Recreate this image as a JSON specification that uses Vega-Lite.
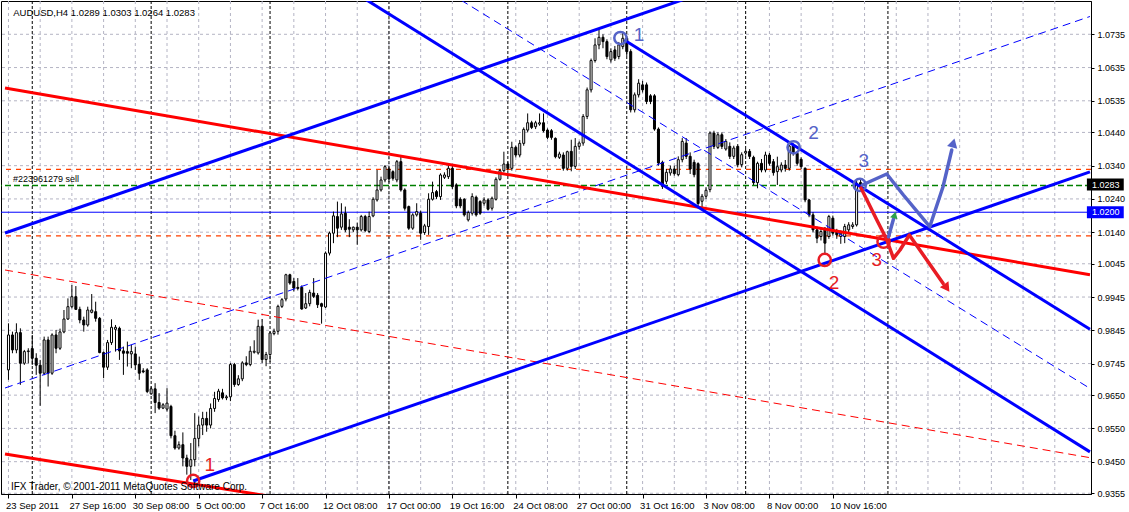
{
  "$schema": "https://vega.github.io/schema/vega-lite/v6.json",
  "width": 1090,
  "height": 493,
  "autosize": {"type": "none"},
  "padding": {"left": 1, "top": 1, "right": 38, "bottom": 18},
  "background": "white",
  "config": {
    "view": {"stroke": "black", "strokeWidth": 1},
    "font": "Liberation Sans",
    "text": {"font": "Liberation Sans"}
  },
  "resolve": {"axis": {"x": "independent", "y": "independent"}},
  "datasets": {
    "one": [{}],
    "candles": [
      {"i":0,"o":0.9726,"h":0.9866,"l":0.9696,"c":0.9831},
      {"i":1,"o":0.9831,"h":0.9841,"l":0.9776,"c":0.9786},
      {"i":2,"o":0.9786,"h":0.9866,"l":0.9776,"c":0.9838},
      {"i":3,"o":0.9838,"h":0.9851,"l":0.9681,"c":0.9746},
      {"i":4,"o":0.9746,"h":0.9786,"l":0.9741,"c":0.9781},
      {"i":5,"o":0.9781,"h":0.9791,"l":0.9746,"c":0.9783},
      {"i":6,"o":0.979,"h":0.9831,"l":0.9741,"c":0.9761},
      {"i":7,"o":0.9761,"h":0.9776,"l":0.9711,"c":0.974},
      {"i":8,"o":0.974,"h":0.9756,"l":0.9618,"c":0.9716},
      {"i":9,"o":0.9716,"h":0.9826,"l":0.971,"c":0.9816},
      {"i":10,"o":0.9816,"h":0.9826,"l":0.9676,"c":0.9716},
      {"i":11,"o":0.9716,"h":0.9836,"l":0.9711,"c":0.9831},
      {"i":12,"o":0.9831,"h":0.9846,"l":0.9776,"c":0.9791},
      {"i":13,"o":0.9791,"h":0.985,"l":0.9786,"c":0.984},
      {"i":14,"o":0.984,"h":0.9906,"l":0.9836,"c":0.9879},
      {"i":15,"o":0.9879,"h":0.9941,"l":0.9876,"c":0.9916},
      {"i":16,"o":0.9916,"h":0.9981,"l":0.9911,"c":0.9946},
      {"i":17,"o":0.9946,"h":0.9978,"l":0.9906,"c":0.9908},
      {"i":18,"o":0.9908,"h":0.9916,"l":0.9866,"c":0.9876},
      {"i":19,"o":0.9876,"h":0.9886,"l":0.9841,"c":0.9861},
      {"i":20,"o":0.9861,"h":0.9916,"l":0.9856,"c":0.9906},
      {"i":21,"o":0.9899,"h":0.9954,"l":0.9896,"c":0.9906},
      {"i":22,"o":0.9901,"h":0.9931,"l":0.9871,"c":0.9881},
      {"i":23,"o":0.9881,"h":0.9885,"l":0.9776,"c":0.9778},
      {"i":24,"o":0.9778,"h":0.9781,"l":0.9701,"c":0.9734},
      {"i":25,"o":0.9734,"h":0.9816,"l":0.9726,"c":0.9808},
      {"i":26,"o":0.9808,"h":0.9878,"l":0.9801,"c":0.9854},
      {"i":27,"o":0.9848,"h":0.9861,"l":0.9781,"c":0.9854},
      {"i":28,"o":0.9851,"h":0.9856,"l":0.9756,"c":0.9783},
      {"i":29,"o":0.9783,"h":0.9796,"l":0.9711,"c":0.9776},
      {"i":30,"o":0.9781,"h":0.9811,"l":0.9736,"c":0.9776},
      {"i":31,"o":0.9774,"h":0.9801,"l":0.9731,"c":0.9781},
      {"i":32,"o":0.9774,"h":0.9796,"l":0.9726,"c":0.9741},
      {"i":33,"o":0.9743,"h":0.9766,"l":0.9696,"c":0.9716},
      {"i":34,"o":0.9723,"h":0.9731,"l":0.9716,"c":0.972},
      {"i":35,"o":0.9726,"h":0.9731,"l":0.9656,"c":0.9661},
      {"i":36,"o":0.9654,"h":0.9676,"l":0.9651,"c":0.9669},
      {"i":37,"o":0.9669,"h":0.9686,"l":0.9596,"c":0.9628},
      {"i":38,"o":0.9628,"h":0.9656,"l":0.9606,"c":0.9611},
      {"i":39,"o":0.9611,"h":0.9626,"l":0.9608,"c":0.9621},
      {"i":40,"o":0.9608,"h":0.9671,"l":0.9601,"c":0.9626},
      {"i":41,"o":0.9616,"h":0.9621,"l":0.952,"c":0.9528},
      {"i":42,"o":0.9528,"h":0.9543,"l":0.9486,"c":0.9491},
      {"i":43,"o":0.9491,"h":0.9511,"l":0.9486,"c":0.9501},
      {"i":44,"o":0.9501,"h":0.9538,"l":0.9436,"c":0.9461},
      {"i":45,"o":0.9461,"h":0.9471,"l":0.9411,"c":0.9436},
      {"i":46,"o":0.9436,"h":0.9506,"l":0.9395,"c":0.9456},
      {"i":47,"o":0.9456,"h":0.9596,"l":0.9436,"c":0.952},
      {"i":48,"o":0.952,"h":0.9586,"l":0.9496,"c":0.956},
      {"i":49,"o":0.956,"h":0.96,"l":0.953,"c":0.958},
      {"i":50,"o":0.958,"h":0.96,"l":0.954,"c":0.956},
      {"i":51,"o":0.956,"h":0.9625,"l":0.955,"c":0.961},
      {"i":52,"o":0.961,"h":0.966,"l":0.96,"c":0.964},
      {"i":53,"o":0.9637,"h":0.9669,"l":0.963,"c":0.9662},
      {"i":54,"o":0.9657,"h":0.9669,"l":0.9637,"c":0.9642},
      {"i":55,"o":0.9642,"h":0.965,"l":0.9635,"c":0.9645},
      {"i":56,"o":0.9645,"h":0.9747,"l":0.9632,"c":0.9742},
      {"i":57,"o":0.9742,"h":0.9747,"l":0.9675,"c":0.9682},
      {"i":58,"o":0.9682,"h":0.971,"l":0.9678,"c":0.9699},
      {"i":59,"o":0.9699,"h":0.9752,"l":0.9692,"c":0.9747},
      {"i":60,"o":0.9747,"h":0.9767,"l":0.9737,"c":0.9742},
      {"i":61,"o":0.9742,"h":0.9797,"l":0.9737,"c":0.9782},
      {"i":62,"o":0.9779,"h":0.9815,"l":0.9775,"c":0.9782},
      {"i":63,"o":0.9777,"h":0.9877,"l":0.9772,"c":0.9857},
      {"i":64,"o":0.9857,"h":0.9879,"l":0.9747,"c":0.9757},
      {"i":65,"o":0.9757,"h":0.978,"l":0.9737,"c":0.9772},
      {"i":66,"o":0.9772,"h":0.9842,"l":0.975,"c":0.9837},
      {"i":67,"o":0.9835,"h":0.985,"l":0.983,"c":0.9842},
      {"i":68,"o":0.9842,"h":0.9922,"l":0.9832,"c":0.9917},
      {"i":69,"o":0.9917,"h":0.9942,"l":0.9912,"c":0.9937},
      {"i":70,"o":0.9939,"h":1.0015,"l":0.9932,"c":1.0012},
      {"i":71,"o":1.0012,"h":1.0015,"l":0.9982,"c":0.9987},
      {"i":72,"o":0.9992,"h":1.0002,"l":0.9962,"c":0.9972},
      {"i":73,"o":0.9974,"h":1.0002,"l":0.9965,"c":0.9971},
      {"i":74,"o":0.9974,"h":0.998,"l":0.9907,"c":0.9909},
      {"i":75,"o":0.9912,"h":0.9957,"l":0.9909,"c":0.9925},
      {"i":76,"o":0.9925,"h":0.9967,"l":0.9917,"c":0.9959},
      {"i":77,"o":0.9957,"h":1.0002,"l":0.9942,"c":0.9947},
      {"i":78,"o":0.995,"h":0.9957,"l":0.9912,"c":0.9922},
      {"i":79,"o":0.9925,"h":0.9928,"l":0.9865,"c":0.9917},
      {"i":80,"o":0.9915,"h":1.0082,"l":0.9912,"c":1.0077},
      {"i":81,"o":1.0077,"h":1.0142,"l":1.007,"c":1.0137},
      {"i":82,"o":1.0137,"h":1.0202,"l":1.0107,"c":1.0189},
      {"i":83,"o":1.0187,"h":1.0232,"l":1.0125,"c":1.0152},
      {"i":84,"o":1.0155,"h":1.0227,"l":1.0147,"c":1.0195},
      {"i":85,"o":1.0197,"h":1.0217,"l":1.014,"c":1.0147},
      {"i":86,"o":1.0155,"h":1.0179,"l":1.0125,"c":1.0149},
      {"i":87,"o":1.0147,"h":1.0157,"l":1.014,"c":1.0155},
      {"i":88,"o":1.0155,"h":1.0169,"l":1.0102,"c":1.0147},
      {"i":89,"o":1.0147,"h":1.0192,"l":1.0142,"c":1.0187},
      {"i":90,"o":1.0187,"h":1.0192,"l":1.014,"c":1.0145},
      {"i":91,"o":1.0142,"h":1.0202,"l":1.0137,"c":1.0187},
      {"i":92,"o":1.0189,"h":1.0245,"l":1.0185,"c":1.0239},
      {"i":93,"o":1.0237,"h":1.0327,"l":1.0232,"c":1.0267},
      {"i":94,"o":1.0267,"h":1.0307,"l":1.0262,"c":1.0297},
      {"i":95,"o":1.0297,"h":1.0342,"l":1.029,"c":1.0337},
      {"i":96,"o":1.033,"h":1.0337,"l":1.029,"c":1.03},
      {"i":97,"o":1.0322,"h":1.0326,"l":1.0295,"c":1.0302},
      {"i":98,"o":1.0297,"h":1.0357,"l":1.029,"c":1.0352},
      {"i":99,"o":1.0352,"h":1.0367,"l":1.0262,"c":1.0267},
      {"i":100,"o":1.0267,"h":1.0272,"l":1.0205,"c":1.0212},
      {"i":101,"o":1.0217,"h":1.022,"l":1.0147,"c":1.0152},
      {"i":102,"o":1.0152,"h":1.0197,"l":1.0147,"c":1.0192},
      {"i":103,"o":1.0192,"h":1.0227,"l":1.0187,"c":1.0202},
      {"i":104,"o":1.0197,"h":1.0205,"l":1.0117,"c":1.0137},
      {"i":105,"o":1.0139,"h":1.0165,"l":1.0132,"c":1.0159},
      {"i":106,"o":1.0157,"h":1.0257,"l":1.0132,"c":1.0239},
      {"i":107,"o":1.0239,"h":1.0292,"l":1.0235,"c":1.0259},
      {"i":108,"o":1.0262,"h":1.0267,"l":1.024,"c":1.0247},
      {"i":109,"o":1.0247,"h":1.0317,"l":1.0237,"c":1.0312},
      {"i":110,"o":1.0305,"h":1.032,"l":1.03,"c":1.0312},
      {"i":111,"o":1.0307,"h":1.0347,"l":1.03,"c":1.0332},
      {"i":112,"o":1.0332,"h":1.0342,"l":1.027,"c":1.0277},
      {"i":113,"o":1.0282,"h":1.0287,"l":1.0212,"c":1.0219},
      {"i":114,"o":1.0239,"h":1.0245,"l":1.0212,"c":1.0219},
      {"i":115,"o":1.0239,"h":1.0242,"l":1.0187,"c":1.0192},
      {"i":116,"o":1.0177,"h":1.0205,"l":1.0172,"c":1.0199},
      {"i":117,"o":1.0197,"h":1.0257,"l":1.019,"c":1.0247},
      {"i":118,"o":1.0245,"h":1.025,"l":1.0187,"c":1.0192},
      {"i":119,"o":1.0232,"h":1.0236,"l":1.0192,"c":1.0197},
      {"i":120,"o":1.0227,"h":1.0245,"l":1.022,"c":1.0237},
      {"i":121,"o":1.0237,"h":1.0242,"l":1.0205,"c":1.0209},
      {"i":122,"o":1.0212,"h":1.0247,"l":1.0205,"c":1.0242},
      {"i":123,"o":1.0239,"h":1.0305,"l":1.0235,"c":1.0299},
      {"i":124,"o":1.0299,"h":1.033,"l":1.0295,"c":1.0325},
      {"i":125,"o":1.0325,"h":1.0382,"l":1.032,"c":1.0345},
      {"i":126,"o":1.0345,"h":1.0352,"l":1.0325,"c":1.0332},
      {"i":127,"o":1.0332,"h":1.0412,"l":1.0325,"c":1.0395},
      {"i":128,"o":1.0395,"h":1.04,"l":1.0365,"c":1.0372},
      {"i":129,"o":1.0372,"h":1.0417,"l":1.0365,"c":1.0407},
      {"i":130,"o":1.0407,"h":1.0455,"l":1.04,"c":1.0449},
      {"i":131,"o":1.0447,"h":1.0497,"l":1.044,"c":1.0469},
      {"i":132,"o":1.0469,"h":1.0475,"l":1.045,"c":1.0455},
      {"i":133,"o":1.0457,"h":1.0475,"l":1.045,"c":1.0469},
      {"i":134,"o":1.0465,"h":1.0497,"l":1.046,"c":1.0469},
      {"i":135,"o":1.0469,"h":1.0497,"l":1.044,"c":1.0445},
      {"i":136,"o":1.0447,"h":1.0452,"l":1.042,"c":1.0425},
      {"i":137,"o":1.0445,"h":1.045,"l":1.0418,"c":1.0425},
      {"i":138,"o":1.0422,"h":1.0425,"l":1.0362,"c":1.0367},
      {"i":139,"o":1.0365,"h":1.0382,"l":1.036,"c":1.0375},
      {"i":140,"o":1.0372,"h":1.038,"l":1.0325,"c":1.0332},
      {"i":141,"o":1.0332,"h":1.0385,"l":1.0325,"c":1.0382},
      {"i":142,"o":1.0383,"h":1.0418,"l":1.0323,"c":1.0338},
      {"i":143,"o":1.0338,"h":1.0423,"l":1.033,"c":1.0398},
      {"i":144,"o":1.0398,"h":1.0413,"l":1.0388,"c":1.0408},
      {"i":145,"o":1.0408,"h":1.0495,"l":1.04,"c":1.0488},
      {"i":146,"o":1.0488,"h":1.0575,"l":1.048,"c":1.0568},
      {"i":147,"o":1.0568,"h":1.0662,"l":1.056,"c":1.0656},
      {"i":148,"o":1.0656,"h":1.0723,"l":1.065,"c":1.0703},
      {"i":149,"o":1.0703,"h":1.075,"l":1.069,"c":1.0726},
      {"i":150,"o":1.0726,"h":1.0735,"l":1.0693,"c":1.0713},
      {"i":151,"o":1.0713,"h":1.072,"l":1.066,"c":1.0668},
      {"i":152,"o":1.0658,"h":1.0693,"l":1.065,"c":1.0683},
      {"i":153,"o":1.0688,"h":1.07,"l":1.0655,"c":1.0663},
      {"i":154,"o":1.0668,"h":1.0712,"l":1.066,"c":1.0703},
      {"i":155,"o":1.0698,"h":1.0743,"l":1.069,"c":1.0723},
      {"i":156,"o":1.0723,"h":1.0728,"l":1.067,"c":1.0683},
      {"i":157,"o":1.0683,"h":1.069,"l":1.05,"c":1.0508},
      {"i":158,"o":1.0508,"h":1.056,"l":1.05,"c":1.0553},
      {"i":159,"o":1.0553,"h":1.06,"l":1.0545,"c":1.0588},
      {"i":160,"o":1.0583,"h":1.0595,"l":1.056,"c":1.0568},
      {"i":161,"o":1.0583,"h":1.059,"l":1.0525,"c":1.0533},
      {"i":162,"o":1.055,"h":1.0555,"l":1.0525,"c":1.0533},
      {"i":163,"o":1.055,"h":1.0555,"l":1.0445,"c":1.045},
      {"i":164,"o":1.045,"h":1.0455,"l":1.034,"c":1.0348},
      {"i":165,"o":1.035,"h":1.0355,"l":1.027,"c":1.0278},
      {"i":166,"o":1.0293,"h":1.033,"l":1.0285,"c":1.032},
      {"i":167,"o":1.0318,"h":1.034,"l":1.031,"c":1.033},
      {"i":168,"o":1.033,"h":1.034,"l":1.031,"c":1.0316},
      {"i":169,"o":1.0313,"h":1.0368,"l":1.0308,"c":1.0358},
      {"i":170,"o":1.0358,"h":1.0423,"l":1.035,"c":1.0413},
      {"i":171,"o":1.0408,"h":1.0423,"l":1.036,"c":1.0368},
      {"i":172,"o":1.0368,"h":1.038,"l":1.0315,"c":1.033},
      {"i":173,"o":1.035,"h":1.0358,"l":1.0305,"c":1.0313},
      {"i":174,"o":1.0346,"h":1.035,"l":1.0216,"c":1.0226},
      {"i":175,"o":1.0233,"h":1.0255,"l":1.0215,"c":1.0248},
      {"i":176,"o":1.0248,"h":1.0275,"l":1.024,"c":1.0266},
      {"i":177,"o":1.0268,"h":1.0443,"l":1.026,"c":1.0438},
      {"i":178,"o":1.0438,"h":1.0445,"l":1.039,"c":1.0398},
      {"i":179,"o":1.0395,"h":1.044,"l":1.039,"c":1.0433},
      {"i":180,"o":1.0433,"h":1.044,"l":1.039,"c":1.0398},
      {"i":181,"o":1.039,"h":1.042,"l":1.0385,"c":1.0413},
      {"i":182,"o":1.0398,"h":1.041,"l":1.036,"c":1.0368},
      {"i":183,"o":1.0368,"h":1.04,"l":1.036,"c":1.0393},
      {"i":184,"o":1.0398,"h":1.0405,"l":1.0335,"c":1.0343},
      {"i":185,"o":1.0343,"h":1.038,"l":1.0335,"c":1.0373},
      {"i":186,"o":1.0378,"h":1.039,"l":1.037,"c":1.0383},
      {"i":187,"o":1.0383,"h":1.039,"l":1.036,"c":1.0368},
      {"i":188,"o":1.0365,"h":1.037,"l":1.0282,"c":1.0289},
      {"i":189,"o":1.0289,"h":1.0352,"l":1.0272,"c":1.0347},
      {"i":190,"o":1.0347,"h":1.036,"l":1.032,"c":1.0327},
      {"i":191,"o":1.0327,"h":1.0382,"l":1.032,"c":1.0372},
      {"i":192,"o":1.0372,"h":1.0378,"l":1.034,"c":1.0347},
      {"i":193,"o":1.0352,"h":1.036,"l":1.031,"c":1.0319},
      {"i":194,"o":1.0322,"h":1.0367,"l":1.0282,"c":1.0337},
      {"i":195,"o":1.0327,"h":1.035,"l":1.032,"c":1.0342},
      {"i":196,"o":1.0342,"h":1.0357,"l":1.0322,"c":1.0332},
      {"i":197,"o":1.0332,"h":1.0402,"l":1.0325,"c":1.0399},
      {"i":198,"o":1.0399,"h":1.0407,"l":1.037,"c":1.0377},
      {"i":199,"o":1.0377,"h":1.0382,"l":1.034,"c":1.0347},
      {"i":200,"o":1.0359,"h":1.0365,"l":1.033,"c":1.0337},
      {"i":201,"o":1.0332,"h":1.0335,"l":1.023,"c":1.0237},
      {"i":202,"o":1.0237,"h":1.024,"l":1.0185,"c":1.0192},
      {"i":203,"o":1.0192,"h":1.02,"l":1.014,"c":1.0147},
      {"i":204,"o":1.0147,"h":1.0157,"l":1.0107,"c":1.0122},
      {"i":205,"o":1.0127,"h":1.015,"l":1.0115,"c":1.0142},
      {"i":206,"o":1.0152,"h":1.0155,"l":1.0072,"c":1.0107},
      {"i":207,"o":1.0127,"h":1.0192,"l":1.012,"c":1.0187},
      {"i":208,"o":1.0182,"h":1.019,"l":1.013,"c":1.0137},
      {"i":209,"o":1.0142,"h":1.015,"l":1.012,"c":1.0132},
      {"i":210,"o":1.0127,"h":1.0145,"l":1.0105,"c":1.0137},
      {"i":211,"o":1.0127,"h":1.0165,"l":1.0107,"c":1.0157},
      {"i":212,"o":1.0147,"h":1.017,"l":1.014,"c":1.0162},
      {"i":213,"o":1.0157,"h":1.017,"l":1.015,"c":1.0162},
      {"i":214,"o":1.0162,"h":1.0295,"l":1.0157,"c":1.0287},
      {"i":215,"o":1.0289,"h":1.0303,"l":1.0264,"c":1.0283}
    ],
    "grid": [
      {"i":0},{"i":8},{"i":16},{"i":24},{"i":32},{"i":40},{"i":48},{"i":56},{"i":64},{"i":72},
      {"i":80},{"i":88},{"i":96},{"i":104},{"i":112},{"i":120},{"i":128},{"i":136},{"i":144},{"i":152},
      {"i":160},{"i":168},{"i":176},{"i":184},{"i":192},{"i":200},{"i":208},{"i":216},{"i":224},{"i":232},
      {"i":240},{"i":248},{"i":256},{"i":264}
    ],
    "hgrid": [
      {"p":1.0735},{"p":1.0635},{"p":1.0535},{"p":1.044},{"p":1.034},{"p":1.024},{"p":1.014},{"p":1.0045},
      {"p":0.9945},{"p":0.9845},{"p":0.9745},{"p":0.965},{"p":0.955},{"p":0.945},{"p":0.9355}
    ],
    "sep": [
      {"i":6},{"i":36},{"i":66},{"i":96},{"i":126},{"i":156},{"i":186},{"i":221.9}
    ],
    "trend": [
      {"id":"L1","g":"tb","i1":-0.875,"p1":1.01376,"i2":174.125,"p2":1.08552},
      {"id":"L2","g":"tb","i1":46.6,"p1":0.93919,"i2":272.875,"p2":1.03213},
      {"id":"L3","g":"tb","i1":88.625,"p1":1.0851,"i2":272.875,"p2":0.94794},
      {"id":"L4","g":"tb","i1":155.375,"p1":1.07178,"i2":272.875,"p2":0.9848},
      {"id":"L5","g":"db","i1":-0.875,"p1":0.96715,"i2":272.875,"p2":1.07885},
      {"id":"L6","g":"db","i1":114.125,"p1":1.08381,"i2":272.875,"p2":0.96703},
      {"id":"L7","g":"dr","i1":-0.875,"p1":1.00263,"i2":272.875,"p2":0.9462},
      {"id":"L8","g":"tr","i1":-0.875,"p1":1.05735,"i2":272.875,"p2":1.00122},
      {"id":"L9","g":"tr","i1":-0.875,"p1":0.94731,"i2":74.125,"p2":0.93306}
    ],
    "circles": [
      {"c":"b","i":154.4,"p":1.07238},
      {"c":"b","i":198.1,"p":1.03952},
      {"c":"b","i":214.8,"p":1.02819},
      {"c":"r","i":46.6,"p":0.93919},
      {"c":"r","i":205.95,"p":1.00564},
      {"c":"r","i":220.8,"p":1.01114}
    ],
    "nums": [
      {"c":"b","t":"1","i":159.1,"p":1.07329},
      {"c":"b","t":"2","i":203.1,"p":1.04373},
      {"c":"b","t":"3","i":215.8,"p":1.03549},
      {"c":"r","t":"1","i":50.8,"p":0.944},
      {"c":"r","t":"2","i":208.3,"p":0.99863},
      {"c":"r","t":"3","i":219.1,"p":1.00564}
    ],
    "paths": [
      {"id":"b","k":0,"i":215.4,"p":1.02819},
      {"id":"b","k":1,"i":221.6,"p":1.0315},
      {"id":"b","k":2,"i":225.8,"p":1.02518},
      {"id":"b","k":3,"i":232.45,"p":1.01565},
      {"id":"b","k":4,"i":235.8,"p":1.02768},
      {"id":"b","k":5,"i":238.0,"p":1.03871},
      {"id":"r","k":0,"i":215.1,"p":1.02729},
      {"id":"r","k":1,"i":217.45,"p":1.02166},
      {"id":"r","k":2,"i":219.1,"p":1.01766},
      {"id":"r","k":3,"i":220.8,"p":1.01367},
      {"id":"r","k":4,"i":221.6,"p":1.01165},
      {"id":"r","k":5,"i":223.3,"p":1.00615},
      {"id":"r","k":6,"i":224.95,"p":1.00864},
      {"id":"r","k":7,"i":227.3,"p":1.01315},
      {"id":"r","k":8,"i":229.95,"p":1.00864},
      {"id":"r","k":9,"i":235.8,"p":0.99863},
      {"id":"g","k":0,"i":222.05,"p":1.01264},
      {"id":"g","k":1,"i":223.3,"p":1.01797}
    ]
  },
  "layer": [
    {
      "data": {"name": "grid"},
      "mark": {"type": "rule", "color": "#b4b4c4", "strokeWidth": 1, "strokeDash": [3, 3]},
      "encoding": {
        "x": {
          "field": "i", "type": "quantitative",
          "scale": {"domain": [-0.625, 271.875], "nice": false, "zero": false},
          "axis": {
            "orient": "bottom", "title": null, "grid": false,
            "values": [0, 16, 32, 48, 64, 80, 96, 112, 128, 144, 160, 176, 192, 208],
            "labelExpr": "['23 Sep 2011','27 Sep 16:00','30 Sep 08:00','5 Oct 00:00','7 Oct 16:00','12 Oct 08:00','17 Oct 00:00','19 Oct 16:00','24 Oct 08:00','27 Oct 00:00','31 Oct 16:00','3 Nov 08:00','8 Nov 00:00','10 Nov 16:00'][round(datum.value/16)]",
            "labelAlign": "left", "labelBaseline": "top", "labelOffset": -3, "labelPadding": 2,
            "labelFont": "Liberation Sans", "labelFontSize": 9.5, "labelColor": "black",
            "labelOverlap": false, "labelFlush": false,
            "tickSize": 4, "tickColor": "black", "domainColor": "black"
          }
        }
      }
    },
    {
      "data": {"name": "hgrid"},
      "mark": {"type": "rule", "color": "#b4b4c4", "strokeWidth": 1, "strokeDash": [3, 3]},
      "encoding": {
        "y": {
          "field": "p", "type": "quantitative",
          "scale": {"domain": [0.93528, 1.08351], "nice": false, "zero": false},
          "axis": {
            "orient": "right", "title": null, "grid": false,
            "values": [1.0735, 1.0635, 1.0535, 1.044, 1.034, 1.024, 1.014, 1.0045, 0.9945, 0.9845, 0.9745, 0.965, 0.955, 0.945, 0.9355],
            "format": ".4f",
            "labelFont": "Liberation Sans", "labelFontSize": 9, "labelColor": "black", "labelPadding": 3,
            "labelOverlap": false, "labelFlush": false,
            "tickSize": 3, "tickColor": "black", "domainColor": "black"
          }
        }
      }
    },
    {
      "data": {"name": "sep"},
      "mark": {"type": "rule", "color": "black", "strokeWidth": 1, "strokeDash": [3, 2]},
      "encoding": {"x": {"field": "i", "type": "quantitative", "axis": null}}
    },
    {
      "data": {"name": "one"},
      "mark": {"type": "rule", "color": "#0000ff", "strokeWidth": 1},
      "encoding": {"y": {"datum": 1.02, "type": "quantitative", "axis": null}}
    },
    {
      "data": {"name": "one"},
      "mark": {"type": "rule", "color": "#008000", "strokeWidth": 1.5, "strokeDash": [6, 3]},
      "encoding": {"y": {"datum": 1.028, "type": "quantitative", "axis": null}}
    },
    {
      "data": {"name": "one"},
      "mark": {"type": "rule", "color": "#ff4000", "strokeWidth": 1.2, "strokeDash": [5, 5]},
      "encoding": {"y": {"datum": 1.0329, "type": "quantitative", "axis": null}}
    },
    {
      "data": {"name": "one"},
      "mark": {"type": "rule", "color": "#ff4000", "strokeWidth": 1.2, "strokeDash": [5, 5]},
      "encoding": {"y": {"datum": 1.0129, "type": "quantitative", "axis": null}}
    },
    {
      "data": {"name": "candles"},
      "mark": {"type": "rule", "color": "black", "strokeWidth": 1},
      "encoding": {
        "x": {"field": "i", "type": "quantitative", "axis": null},
        "y": {"field": "l", "type": "quantitative", "axis": null},
        "y2": {"field": "h"}
      }
    },
    {
      "data": {"name": "candles"},
      "mark": {"type": "bar", "width": 2, "stroke": "black", "strokeWidth": 1},
      "encoding": {
        "x": {"field": "i", "type": "quantitative", "axis": null},
        "y": {"field": "o", "type": "quantitative", "axis": null},
        "y2": {"field": "c"},
        "fill": {"condition": {"test": "datum.c >= datum.o", "value": "white"}, "value": "black"}
      }
    },
    {
      "data": {"name": "trend"},
      "transform": [{"filter": "datum.g == 'db'"}],
      "mark": {"type": "rule", "clip": true, "color": "#0000ff", "strokeWidth": 1, "strokeDash": [8, 5]},
      "encoding": {
        "x": {"field": "i1", "type": "quantitative", "axis": null},
        "y": {"field": "p1", "type": "quantitative", "axis": null},
        "x2": {"field": "i2"},
        "y2": {"field": "p2"}
      }
    },
    {
      "data": {"name": "trend"},
      "transform": [{"filter": "datum.g == 'dr'"}],
      "mark": {"type": "rule", "clip": true, "color": "#ff0000", "strokeWidth": 1, "strokeDash": [8, 5]},
      "encoding": {
        "x": {"field": "i1", "type": "quantitative", "axis": null},
        "y": {"field": "p1", "type": "quantitative", "axis": null},
        "x2": {"field": "i2"},
        "y2": {"field": "p2"}
      }
    },
    {
      "data": {"name": "trend"},
      "transform": [{"filter": "datum.g == 'tr'"}],
      "mark": {"type": "rule", "clip": true, "color": "#ff0000", "strokeWidth": 3},
      "encoding": {
        "x": {"field": "i1", "type": "quantitative", "axis": null},
        "y": {"field": "p1", "type": "quantitative", "axis": null},
        "x2": {"field": "i2"},
        "y2": {"field": "p2"}
      }
    },
    {
      "data": {"name": "trend"},
      "transform": [{"filter": "datum.g == 'tb'"}],
      "mark": {"type": "rule", "clip": true, "color": "#0000ff", "strokeWidth": 3},
      "encoding": {
        "x": {"field": "i1", "type": "quantitative", "axis": null},
        "y": {"field": "p1", "type": "quantitative", "axis": null},
        "x2": {"field": "i2"},
        "y2": {"field": "p2"}
      }
    },
    {
      "data": {"name": "circles"},
      "mark": {"type": "point", "shape": "circle", "filled": false, "size": 150, "strokeWidth": 2.5, "opacity": 1},
      "encoding": {
        "x": {"field": "i", "type": "quantitative", "axis": null},
        "y": {"field": "p", "type": "quantitative", "axis": null},
        "stroke": {"field": "c", "type": "nominal", "scale": {"domain": ["b", "r"], "range": ["#5563c8", "#e81c24"]}, "legend": null}
      }
    },
    {
      "data": {"name": "paths"},
      "mark": {"type": "line", "strokeWidth": 3.5, "strokeJoin": "round", "strokeCap": "round"},
      "encoding": {
        "x": {"field": "i", "type": "quantitative", "axis": null},
        "y": {"field": "p", "type": "quantitative", "axis": null},
        "detail": {"field": "id"},
        "order": {"field": "k", "type": "quantitative"},
        "stroke": {"field": "id", "type": "nominal", "scale": {"domain": ["b", "r", "g"], "range": ["#5563c8", "#e81c24", "#2ca04c"]}, "legend": null}
      }
    },
    {
      "data": {"name": "one"},
      "mark": {"type": "point", "shape": "triangle-up", "filled": true, "size": 110, "angle": 15, "color": "#5563c8", "opacity": 1},
      "encoding": {
        "x": {"datum": 238.4, "type": "quantitative", "axis": null},
        "y": {"datum": 1.04082, "type": "quantitative", "axis": null}
      }
    },
    {
      "data": {"name": "one"},
      "mark": {"type": "point", "shape": "triangle-up", "filled": true, "size": 110, "angle": 145, "color": "#e81c24", "opacity": 1},
      "encoding": {
        "x": {"datum": 236.75, "type": "quantitative", "axis": null},
        "y": {"datum": 0.99722, "type": "quantitative", "axis": null}
      }
    },
    {
      "data": {"name": "one"},
      "mark": {"type": "point", "shape": "triangle-up", "filled": true, "size": 60, "angle": 15, "color": "#2ca04c", "opacity": 1},
      "encoding": {
        "x": {"datum": 223.6, "type": "quantitative", "axis": null},
        "y": {"datum": 1.01917, "type": "quantitative", "axis": null}
      }
    },
    {
      "data": {"name": "nums"},
      "mark": {"type": "text", "font": "Liberation Sans", "fontSize": 19, "align": "center", "baseline": "middle"},
      "encoding": {
        "x": {"field": "i", "type": "quantitative", "axis": null},
        "y": {"field": "p", "type": "quantitative", "axis": null},
        "text": {"field": "t"},
        "color": {"field": "c", "type": "nominal", "scale": {"domain": ["b", "r"], "range": ["#5563c8", "#e81c24"]}, "legend": null}
      }
    },
    {
      "data": {"name": "one"},
      "mark": {"type": "text", "font": "Liberation Sans", "fontSize": 9.5, "align": "left", "baseline": "middle", "color": "black", "text": "AUDUSD,H4  1.0289 1.0303 1.0264 1.0283"},
      "encoding": {
        "x": {"datum": 1.2, "type": "quantitative", "axis": null},
        "y": {"datum": 1.08005, "type": "quantitative", "axis": null}
      }
    },
    {
      "data": {"name": "one"},
      "mark": {"type": "text", "font": "Liberation Sans", "fontSize": 9, "align": "left", "baseline": "middle", "color": "black", "text": "#223961279 sell"},
      "encoding": {
        "x": {"datum": 1.125, "type": "quantitative", "axis": null},
        "y": {"datum": 1.02999, "type": "quantitative", "axis": null}
      }
    },
    {
      "data": {"name": "one"},
      "mark": {"type": "text", "font": "Liberation Sans", "fontSize": 10, "align": "left", "baseline": "middle", "color": "black", "text": "IFX Trader, © 2001-2011 MetaQuotes Software Corp."},
      "encoding": {
        "x": {"datum": 0.625, "type": "quantitative", "axis": null},
        "y": {"datum": 0.93748, "type": "quantitative", "axis": null}
      }
    },
    {
      "data": {"name": "one"},
      "mark": {"type": "rule", "color": "black", "strokeWidth": 12, "clip": false},
      "encoding": {
        "x": {"datum": 272.1, "type": "quantitative", "axis": null},
        "x2": {"datum": 281.4},
        "y": {"datum": 1.0283, "type": "quantitative", "axis": null}
      }
    },
    {
      "data": {"name": "one"},
      "mark": {"type": "rule", "color": "#0000ff", "strokeWidth": 12, "clip": false},
      "encoding": {
        "x": {"datum": 272.1, "type": "quantitative", "axis": null},
        "x2": {"datum": 281.4},
        "y": {"datum": 1.02, "type": "quantitative", "axis": null}
      }
    },
    {
      "data": {"name": "one"},
      "mark": {"type": "text", "font": "Liberation Sans", "fontSize": 9, "align": "left", "baseline": "middle", "color": "white", "text": "1.0283"},
      "encoding": {
        "x": {"datum": 273.4, "type": "quantitative", "axis": null},
        "y": {"datum": 1.0283, "type": "quantitative", "axis": null}
      }
    },
    {
      "data": {"name": "one"},
      "mark": {"type": "text", "font": "Liberation Sans", "fontSize": 9, "align": "left", "baseline": "middle", "color": "white", "text": "1.0200"},
      "encoding": {
        "x": {"datum": 273.4, "type": "quantitative", "axis": null},
        "y": {"datum": 1.02, "type": "quantitative", "axis": null}
      }
    }
  ]
}
